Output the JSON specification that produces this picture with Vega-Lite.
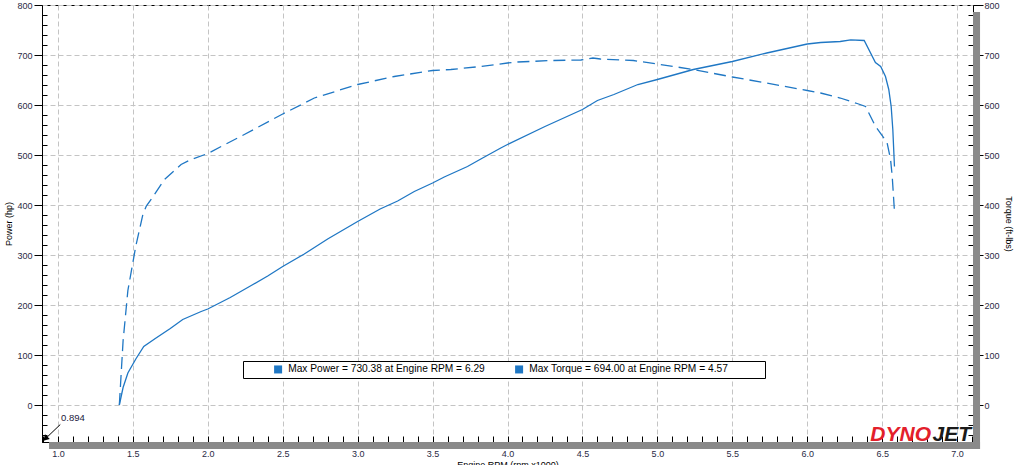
{
  "$schema": "https://vega.github.io/schema/vega-lite/v6.json",
  "width": 931,
  "height": 437,
  "autosize": {"type": "none"},
  "padding": {"left": 42, "top": 5, "right": 51, "bottom": 23},
  "background": "white",
  "config": {
    "view": {"stroke": "black", "strokeWidth": 1},
    "font": "Liberation Sans",
    "axis": {
      "domainColor": "black",
      "domainWidth": 1,
      "tickColor": "black",
      "labelFont": "Liberation Sans",
      "labelFontSize": 9,
      "labelColor": "#2a2a44",
      "titleFont": "Liberation Sans",
      "titleFontSize": 9,
      "titleFontWeight": "normal",
      "titleColor": "black",
      "gridColor": "#c4c4c4",
      "gridDash": [5, 3],
      "labelOverlap": false,
      "labelFlush": false,
      "labelBound": false
    }
  },
  "data": {
    "values": [
      {"rpm": 1.41, "series": "Power", "value": 0},
      {"rpm": 1.435, "series": "Power", "value": 35},
      {"rpm": 1.467, "series": "Power", "value": 64},
      {"rpm": 1.52, "series": "Power", "value": 92},
      {"rpm": 1.573, "series": "Power", "value": 117},
      {"rpm": 1.65, "series": "Power", "value": 133},
      {"rpm": 1.75, "series": "Power", "value": 153},
      {"rpm": 1.833, "series": "Power", "value": 171},
      {"rpm": 1.956, "series": "Power", "value": 187},
      {"rpm": 2.0, "series": "Power", "value": 192},
      {"rpm": 2.15, "series": "Power", "value": 215},
      {"rpm": 2.29, "series": "Power", "value": 239},
      {"rpm": 2.4, "series": "Power", "value": 258},
      {"rpm": 2.5, "series": "Power", "value": 277},
      {"rpm": 2.644, "series": "Power", "value": 302},
      {"rpm": 2.8, "series": "Power", "value": 332},
      {"rpm": 3.0, "series": "Power", "value": 367},
      {"rpm": 3.15, "series": "Power", "value": 392},
      {"rpm": 3.267, "series": "Power", "value": 408},
      {"rpm": 3.378, "series": "Power", "value": 427},
      {"rpm": 3.5, "series": "Power", "value": 444},
      {"rpm": 3.578, "series": "Power", "value": 456},
      {"rpm": 3.733, "series": "Power", "value": 477},
      {"rpm": 3.822, "series": "Power", "value": 492},
      {"rpm": 3.955, "series": "Power", "value": 514},
      {"rpm": 4.0, "series": "Power", "value": 521},
      {"rpm": 4.25, "series": "Power", "value": 557},
      {"rpm": 4.5, "series": "Power", "value": 591},
      {"rpm": 4.6, "series": "Power", "value": 609},
      {"rpm": 4.71, "series": "Power", "value": 621},
      {"rpm": 4.87, "series": "Power", "value": 641},
      {"rpm": 5.0, "series": "Power", "value": 651},
      {"rpm": 5.24, "series": "Power", "value": 671},
      {"rpm": 5.5, "series": "Power", "value": 687},
      {"rpm": 5.73, "series": "Power", "value": 704},
      {"rpm": 5.85, "series": "Power", "value": 712},
      {"rpm": 6.0, "series": "Power", "value": 722},
      {"rpm": 6.09, "series": "Power", "value": 725},
      {"rpm": 6.22, "series": "Power", "value": 727},
      {"rpm": 6.29, "series": "Power", "value": 730.4},
      {"rpm": 6.38, "series": "Power", "value": 729},
      {"rpm": 6.455, "series": "Power", "value": 685},
      {"rpm": 6.49, "series": "Power", "value": 677},
      {"rpm": 6.522, "series": "Power", "value": 657},
      {"rpm": 6.544, "series": "Power", "value": 631},
      {"rpm": 6.56, "series": "Power", "value": 597},
      {"rpm": 6.571, "series": "Power", "value": 551},
      {"rpm": 6.582, "series": "Power", "value": 477},
      {"rpm": 1.41, "series": "Torque", "value": 0},
      {"rpm": 1.435, "series": "Torque", "value": 128},
      {"rpm": 1.467, "series": "Torque", "value": 229},
      {"rpm": 1.52, "series": "Torque", "value": 318},
      {"rpm": 1.567, "series": "Torque", "value": 381},
      {"rpm": 1.59, "series": "Torque", "value": 398},
      {"rpm": 1.622, "series": "Torque", "value": 411},
      {"rpm": 1.711, "series": "Torque", "value": 451},
      {"rpm": 1.822, "series": "Torque", "value": 481},
      {"rpm": 1.889, "series": "Torque", "value": 491},
      {"rpm": 2.0, "series": "Torque", "value": 503},
      {"rpm": 2.244, "series": "Torque", "value": 541},
      {"rpm": 2.5, "series": "Torque", "value": 582},
      {"rpm": 2.711, "series": "Torque", "value": 614},
      {"rpm": 3.0, "series": "Torque", "value": 641},
      {"rpm": 3.244, "series": "Torque", "value": 657},
      {"rpm": 3.5, "series": "Torque", "value": 669},
      {"rpm": 3.622, "series": "Torque", "value": 671},
      {"rpm": 3.822, "series": "Torque", "value": 677},
      {"rpm": 4.0, "series": "Torque", "value": 684},
      {"rpm": 4.067, "series": "Torque", "value": 686},
      {"rpm": 4.3, "series": "Torque", "value": 689},
      {"rpm": 4.49, "series": "Torque", "value": 690},
      {"rpm": 4.57, "series": "Torque", "value": 694},
      {"rpm": 4.62, "series": "Torque", "value": 692},
      {"rpm": 4.84, "series": "Torque", "value": 689},
      {"rpm": 5.0, "series": "Torque", "value": 682},
      {"rpm": 5.24, "series": "Torque", "value": 671},
      {"rpm": 5.5, "series": "Torque", "value": 656},
      {"rpm": 5.73, "series": "Torque", "value": 644},
      {"rpm": 6.0, "series": "Torque", "value": 629},
      {"rpm": 6.089, "series": "Torque", "value": 624},
      {"rpm": 6.22, "series": "Torque", "value": 614},
      {"rpm": 6.333, "series": "Torque", "value": 603},
      {"rpm": 6.389, "series": "Torque", "value": 597},
      {"rpm": 6.456, "series": "Torque", "value": 557},
      {"rpm": 6.5, "series": "Torque", "value": 539},
      {"rpm": 6.533, "series": "Torque", "value": 524},
      {"rpm": 6.556, "series": "Torque", "value": 491},
      {"rpm": 6.567, "series": "Torque", "value": 457},
      {"rpm": 6.582, "series": "Torque", "value": 387}
    ]
  },
  "layer": [
    {
      "data": {"values": [{}]},
      "mark": {"type": "rect", "color": "#8a8a8a", "clip": false},
      "encoding": {
        "x": {"datum": 7.106, "type": "quantitative", "scale": {"domain": [0.894, 7.106], "nice": false, "zero": false}, "axis": null},
        "x2": {"datum": 7.153},
        "y": {"datum": 786, "type": "quantitative", "scale": {"domain": [-74, 800], "nice": false, "zero": false}, "axis": null},
        "y2": {"datum": -88}
      }
    },
    {
      "data": {"values": [{}]},
      "mark": {"type": "rect", "color": "#8a8a8a", "clip": false},
      "encoding": {
        "x": {"datum": 0.941, "type": "quantitative", "scale": {"domain": [0.894, 7.106], "nice": false, "zero": false}, "axis": null},
        "x2": {"datum": 7.153},
        "y": {"datum": -74, "type": "quantitative", "scale": {"domain": [-74, 800], "nice": false, "zero": false}, "axis": null},
        "y2": {"datum": -88}
      }
    },
    {
      "data": {"values": [{}]},
      "mark": {"type": "rule", "color": "black", "strokeWidth": 1, "clip": false},
      "encoding": {
        "x": {"datum": 0.894, "type": "quantitative", "scale": {"domain": [0.894, 7.106], "nice": false, "zero": false}, "axis": null},
        "x2": {"datum": 1.016},
        "y": {"datum": -74, "type": "quantitative", "scale": {"domain": [-74, 800], "nice": false, "zero": false}, "axis": null},
        "y2": {"datum": -39}
      }
    },
    {
      "data": {"values": [{}]},
      "mark": {"type": "point", "shape": "triangle", "angle": 225, "filled": true, "color": "black", "size": 45, "opacity": 1, "clip": false},
      "encoding": {
        "x": {"datum": 0.921, "type": "quantitative", "scale": {"domain": [0.894, 7.106], "nice": false, "zero": false}, "axis": null},
        "y": {"datum": -66, "type": "quantitative", "scale": {"domain": [-74, 800], "nice": false, "zero": false}, "axis": null}
      }
    },
    {
      "data": {"values": [{"note": "0.894"}]},
      "mark": {"type": "text", "align": "left", "baseline": "alphabetic", "dx": 19, "dy": -21, "fontSize": 9.5, "color": "#1a1a40", "clip": false},
      "encoding": {
        "x": {"datum": 0.894, "type": "quantitative", "scale": {"domain": [0.894, 7.106], "nice": false, "zero": false}, "axis": null},
        "y": {"datum": -74, "type": "quantitative", "scale": {"domain": [-74, 800], "nice": false, "zero": false}, "axis": null},
        "text": {"field": "note"}
      }
    },
    {
      "data": {"values": [{"logo": "JET"}]},
      "mark": {"type": "text", "align": "right", "baseline": "alphabetic", "dx": -2, "dy": -1, "fontSize": 21, "fontWeight": "bold", "fontStyle": "italic", "color": "#1a1a1a", "clip": false},
      "encoding": {
        "x": {"datum": 7.106, "type": "quantitative", "scale": {"domain": [0.894, 7.106], "nice": false, "zero": false}, "axis": null},
        "y": {"datum": -74, "type": "quantitative", "scale": {"domain": [-74, 800], "nice": false, "zero": false}, "axis": null},
        "text": {"field": "logo"}
      }
    },
    {
      "data": {"values": [{"logo": "DYNO"}]},
      "mark": {"type": "text", "align": "right", "baseline": "alphabetic", "dx": -42, "dy": -1, "fontSize": 21, "fontWeight": "bold", "fontStyle": "italic", "color": "#e3202b", "clip": false},
      "encoding": {
        "x": {"datum": 7.106, "type": "quantitative", "scale": {"domain": [0.894, 7.106], "nice": false, "zero": false}, "axis": null},
        "y": {"datum": -74, "type": "quantitative", "scale": {"domain": [-74, 800], "nice": false, "zero": false}, "axis": null},
        "text": {"field": "logo"}
      }
    },
    {
      "transform": [{"filter": "datum.series === 'Power'"}],
      "mark": {"type": "line", "strokeWidth": 1.3, "clip": true},
      "encoding": {
        "x": {
          "field": "rpm", "type": "quantitative",
          "scale": {"domain": [0.894, 7.106], "nice": false, "zero": false},
          "axis": {
            "orient": "bottom",
            "title": "Engine RPM (rpm x1000)",
            "values": [0.9,1,1.1,1.2,1.3,1.4,1.5,1.6,1.7,1.8,1.9,2,2.1,2.2,2.3,2.4,2.5,2.6,2.7,2.8,2.9,3,3.1,3.2,3.3,3.4,3.5,3.6,3.7,3.8,3.9,4,4.1,4.2,4.3,4.4,4.5,4.6,4.7,4.8,4.9,5,5.1,5.2,5.3,5.4,5.5,5.6,5.7,5.8,5.9,6,6.1,6.2,6.3,6.4,6.5,6.6,6.7,6.8,6.9,7,7.1],
            "tickSize": -6,
            "labelPadding": 13,
            "titlePadding": 2,
            "grid": true,
            "gridOpacity": {"condition": {"test": "(datum.value * 10) % 5 === 0", "value": 1}, "value": 0},
            "labelExpr": "(datum.value * 10) % 5 === 0 ? format(datum.value, '.1f') : ''"
          }
        },
        "y": {
          "field": "value", "type": "quantitative",
          "scale": {"domain": [-74, 800], "nice": false, "zero": false},
          "axis": {
            "orient": "left",
            "title": "Power (hp)",
            "values": [-60,-40,-20,0,20,40,60,80,100,120,140,160,180,200,220,240,260,280,300,320,340,360,380,400,420,440,460,480,500,520,540,560,580,600,620,640,660,680,700,720,740,760,780,800],
            "tickSize": {"condition": {"test": "datum.value % 100 === 0", "value": 8}, "value": -5},
            "labelPadding": 2,
            "titlePadding": 3,
            "grid": true,
            "gridOpacity": {"condition": {"test": "datum.value % 100 === 0", "value": 1}, "value": 0},
            "labelExpr": "datum.value % 100 === 0 ? datum.label : ''"
          }
        },
        "color": {
          "field": "series", "type": "nominal",
          "scale": {"domain": ["Power", "Torque"], "range": ["#1f77c4", "#1f77c4"]},
          "legend": {
            "orient": "none", "legendX": 201, "legendY": 356, "direction": "horizontal",
            "title": null, "fillColor": "white", "strokeColor": "black", "padding": 3,
            "symbolType": "square", "symbolSize": 64, "symbolFillColor": "#1f77c4", "symbolStrokeColor": "#1f77c4",
            "symbolStrokeWidth": 0, "symbolOffset": 27, "labelOffset": 5, "columnPadding": 2,
            "labelFont": "Liberation Sans", "labelFontSize": 10.2, "labelColor": "black", "labelLimit": 800,
            "labelExpr": "datum.value === 'Power' ? 'Max Power = 730.38 at Engine RPM = 6.29' : 'Max Torque = 694.00 at Engine RPM = 4.57\u00a0\u00a0\u00a0\u00a0\u00a0\u00a0\u00a0\u00a0\u00a0\u00a0\u00a0\u00a0\u200b'",
            "encode": {"symbols": {"update": {"fill": {"value": "#1f77c4"}, "strokeDash": {"value": []}}}}
          }
        }
      }
    },
    {
      "transform": [{"filter": "datum.series === 'Torque'"}],
      "mark": {"type": "line", "strokeWidth": 1.3, "strokeDash": [12, 6], "clip": true},
      "encoding": {
        "x": {
          "field": "rpm", "type": "quantitative",
          "scale": {"domain": [0.894, 7.106], "nice": false, "zero": false},
          "axis": null
        },
        "y": {
          "field": "value", "type": "quantitative",
          "scale": {"domain": [-74, 800], "nice": false, "zero": false},
          "axis": {
            "orient": "right",
            "title": "Torque (ft-lbs)",
            "values": [-60,-40,-20,0,20,40,60,80,100,120,140,160,180,200,220,240,260,280,300,320,340,360,380,400,420,440,460,480,500,520,540,560,580,600,620,640,660,680,700,720,740,760,780,800],
            "tickSize": {"condition": {"test": "datum.value % 100 === 0", "value": 10}, "value": -5},
            "labelPadding": 1,
            "titlePadding": 4,
            "grid": false,
            "labelExpr": "datum.value % 100 === 0 ? datum.label : ''"
          }
        },
        "color": {"field": "series", "type": "nominal", "scale": {"domain": ["Power", "Torque"], "range": ["#1f77c4", "#1f77c4"]}}
      }
    }
  ],
  "resolve": {"axis": {"x": "independent", "y": "independent"}}
}
